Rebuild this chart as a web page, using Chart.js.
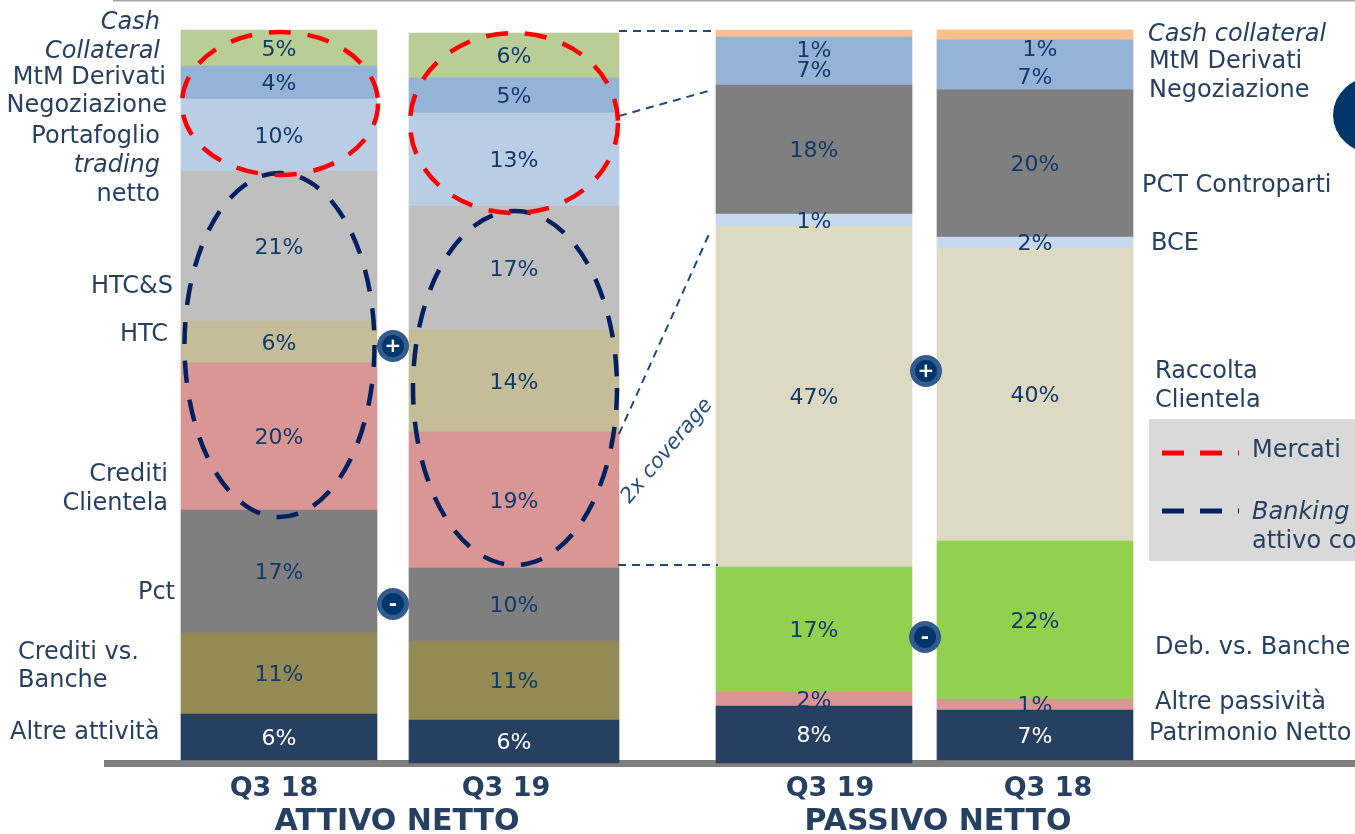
<!DOCTYPE html>
<html>
<head>
<meta charset="utf-8">
<style>
  html, body { margin: 0; padding: 0; background: #fff; overflow: hidden; }
  canvas { display: block; }
</style>
<script src="https://cdn.jsdelivr.net/npm/chart.js@4/dist/chart.umd.min.js"></script>
</head>
<body>
<canvas id="chart" width="1355" height="834"></canvas>
<script>
// Segments, bottom to top
const assetSegments = ['Altre attività', 'Crediti vs. Banche', 'Pct', 'Crediti Clientela', 'HTC', 'HTC&S', 'Portafoglio trading netto', 'MtM Derivati Negoziazione', 'Cash Collateral'];
const liabilitySegments = ['Patrimonio Netto', 'Altre passività', 'Deb. vs. Banche', 'Raccolta Clientela', 'BCE', 'PCT Controparti', 'MtM Derivati Negoziazione', 'Cash collateral'];

// Segment shares (%)
const assetsQ318 = [6.3, 11.1, 16.85, 20.14, 5.75, 20.55, 9.86, 4.52, 4.93];
const assetsQ319 = [5.89, 10.82, 10.0, 18.63, 13.97, 16.99, 12.74, 4.79, 6.16];
const liabilitiesQ319 = [7.81, 1.92, 17.12, 46.71, 1.64, 17.67, 6.58, 0.96];
const liabilitiesQ318 = [6.85, 1.51, 21.64, 40.14, 1.51, 20.14, 6.85, 1.37];

// Percentages as printed on the bars
const assetsQ318Labels = ['6%', '11%', '17%', '20%', '6%', '21%', '10%', '4%', '5%'];
const assetsQ319Labels = ['6%', '11%', '10%', '19%', '14%', '17%', '13%', '5%', '6%'];
const liabilitiesQ319Labels = ['8%', '2%', '17%', '47%', '1%', '18%', '7%', '1%'];
const liabilitiesQ318Labels = ['7%', '1%', '22%', '40%', '2%', '20%', '7%', '1%'];

const periodLabels = ['Q3 18', 'Q3 19', 'Q3 19', 'Q3 18'];

const assetColors = ['#264061', '#948a54', '#7f7f7f', '#d99694', '#c4bd97', '#bfbfbf', '#b9cde5', '#95b3d7', '#b9cd96'];
const liabilityColors = ['#264061', '#d99694', '#92d050', '#ddd9c3', '#c6d9f1', '#7f7f7f', '#95b3d7', '#fac090'];

// x scale runs in page pixels, y scale in %
const barX = [279, 514, 814, 1035];
const barWidth = [196, 210, 196, 196];
const barBase = [0, -0.41, -0.41, 0];
const tickX = [274, 506, 830, 1048];
const yUnit = 7.3;

const FONT = '"DejaVu Sans", Verdana, sans-serif';
const TEXT = '#264061';
const PCT = '#123a6b';

const bars = [
  { names: assetSegments, values: assetsQ318, labels: assetsQ318Labels, colors: assetColors },
  { names: assetSegments, values: assetsQ319, labels: assetsQ319Labels, colors: assetColors },
  { names: liabilitySegments, values: liabilitiesQ319, labels: liabilitiesQ319Labels, colors: liabilityColors },
  { names: liabilitySegments, values: liabilitiesQ318, labels: liabilitiesQ318Labels, colors: liabilityColors }
];

// one dataset per segment so each bar can have its own width
const datasets = [];
bars.forEach((b, i) => {
  let sum = barBase[i];
  b.values.forEach((v, j) => {
    datasets.push({
      label: b.names[j],
      data: [{ x: barX[i], y: [sum, sum + v] }],
      backgroundColor: b.colors[j],
      barThickness: barWidth[i],
      clip: false,
      pctLabel: b.labels[j],
      white: j === 0,
      barIndex: i,
      segIndex: j
    });
    sum += v;
  });
});

// labels that sit away from the middle of their segment: [bar, segment, dx, y]
const movedLabels = [
  [2, 7, 0, 49],
  [2, 6, 0, 69],
  [3, 7, 5, 48],
  [3, 6, 0, 76]
];

const sideTexts = [
  ['Cash', 160, 21, 'right', true],
  ['Collateral', 160, 50, 'right', true],
  ['MtM Derivati', 166, 76, 'right'],
  ['Negoziazione', 167, 104, 'right'],
  ['Portafoglio', 160, 135, 'right'],
  ['trading', 160, 164, 'right', true],
  ['netto', 160, 193, 'right'],
  ['HTC&S', 173, 285, 'right'],
  ['HTC', 168, 333, 'right'],
  ['Crediti', 168, 473, 'right'],
  ['Clientela', 168, 502, 'right'],
  ['Pct', 175, 591, 'right'],
  ['Crediti vs.', 18, 651, 'left'],
  ['Banche', 18, 679, 'left'],
  ['Altre attività', 10, 731, 'left'],
  ['Cash collateral', 1148, 33, 'left', true],
  ['MtM Derivati', 1149, 60, 'left'],
  ['Negoziazione', 1149, 89, 'left'],
  ['PCT Controparti', 1142, 184, 'left'],
  ['BCE', 1151, 242, 'left'],
  ['Raccolta', 1155, 370, 'left'],
  ['Clientela', 1155, 399, 'left'],
  ['Deb. vs. Banche', 1155, 646, 'left'],
  ['Altre passività', 1155, 701, 'left'],
  ['Patrimonio Netto', 1149, 732, 'left']
];

const legendTexts = [
  ['Mercati', 1252, 449, 'left'],
  ['Banking', 1252, 511, 'left', true],
  ['attivo co', 1252, 540, 'left']
];

const groupTitles = [
  ['ATTIVO NETTO', 397, 822],
  ['PASSIVO NETTO', 938, 822]
];

const ellipses = [
  [279.5, 345, 95, 172, '#002060'],
  [515, 388, 102, 177, '#002060'],
  [280, 103.5, 98, 71.5, '#ff0000'],
  [514, 123, 104, 90, '#ff0000']
];

const connectors = [
  [619, 31, 712, 31],
  [619, 116, 712, 90],
  [619, 434, 710, 232],
  [618, 565, 718, 565]
];

const badges = [
  ['+', 393, 346],
  ['+', 926, 371],
  ['-', 393, 604],
  ['-', 925, 637]
];

function text(ctx, str, x, y, align, font, color) {
  ctx.font = font;
  ctx.fillStyle = color;
  ctx.textAlign = align;
  ctx.textBaseline = 'middle';
  ctx.fillText(str, x, y);
}

const backdrop = {
  id: 'backdrop',
  beforeDraw(chart) {
    const ctx = chart.ctx;
    ctx.save();
    // rule along the top
    ctx.fillStyle = '#a6a6a6';
    ctx.fillRect(113, 0, 1242, 1.5);
    // legend box
    ctx.fillStyle = '#d9d9d9';
    ctx.fillRect(1149, 419, 206, 142);
    // logo edge on the right
    ctx.fillStyle = '#00376b';
    ctx.beginPath();
    ctx.ellipse(1376, 115, 43, 39, 0, 0, Math.PI * 2);
    ctx.fill();
    ctx.restore();
  }
};

const overlay = {
  id: 'overlay',
  afterDatasetsDraw(chart) {
    const ctx = chart.ctx;
    ctx.save();

    // percentages on the bars
    chart.data.datasets.forEach((ds, i) => {
      const el = chart.getDatasetMeta(i).data[0];
      let x = el.x;
      let y = (el.y + el.base) / 2;
      const moved = movedLabels.find(m => m[0] === ds.barIndex && m[1] === ds.segIndex);
      if (moved) {
        x += moved[2];
        y = moved[3];
      }
      text(ctx, ds.pctLabel, x, y + 2, 'center', '22px ' + FONT, ds.white ? '#ffffff' : PCT);
    });

    // connectors between the two panels
    ctx.strokeStyle = '#1f497d';
    ctx.lineWidth = 2;
    ctx.setLineDash([8, 6]);
    connectors.forEach(c => {
      ctx.beginPath();
      ctx.moveTo(c[0], c[1]);
      ctx.lineTo(c[2], c[3]);
      ctx.stroke();
    });

    // dashed ellipses
    ctx.lineWidth = 4.5;
    ctx.setLineDash([22, 17]);
    ellipses.forEach(e => {
      ctx.strokeStyle = e[4];
      ctx.beginPath();
      ctx.ellipse(e[0], e[1], e[2], e[3], 0, 0, Math.PI * 2);
      ctx.stroke();
    });

    // legend keys
    [[453, '#ff0000'], [511, '#002060']].forEach(k => {
      ctx.strokeStyle = k[1];
      ctx.lineWidth = 5;
      ctx.setLineDash([22, 16]);
      ctx.beginPath();
      ctx.moveTo(1162, k[0]);
      ctx.lineTo(1239, k[0]);
      ctx.stroke();
    });
    ctx.setLineDash([]);

    // + and - badges
    badges.forEach(b => {
      ctx.fillStyle = '#335c8e';
      ctx.beginPath();
      ctx.arc(b[1], b[2], 16, 0, Math.PI * 2);
      ctx.fill();
      ctx.fillStyle = '#00376b';
      ctx.beginPath();
      ctx.arc(b[1], b[2], 11, 0, Math.PI * 2);
      ctx.fill();
      text(ctx, b[0], b[1], b[2] + 1, 'center', 'bold 20px ' + FONT, '#ffffff');
    });

    sideTexts.concat(legendTexts).forEach(t => {
      text(ctx, t[0], t[1], t[2] + 2, t[3], (t[4] ? 'italic ' : '') + '24px ' + FONT, TEXT);
    });

    groupTitles.forEach(t => {
      text(ctx, t[0], t[1], t[2], 'center', 'bold 30px ' + FONT, TEXT);
    });

    // rotated note
    ctx.translate(667, 451);
    ctx.rotate(-50 * Math.PI / 180);
    text(ctx, '2x coverage', 0, 0, 'center', 'italic 21px ' + FONT, '#2a5080');
    ctx.restore();
  }
};

new Chart(document.getElementById('chart').getContext('2d'), {
  type: 'bar',
  data: { datasets: datasets },
  plugins: [backdrop, overlay],
  options: {
    responsive: false,
    animation: false,
    layout: { padding: { left: 107, top: 0, right: 0, bottom: 0 } },
    plugins: { legend: { display: false }, tooltip: { enabled: false } },
    scales: {
      x: {
        type: 'linear',
        offset: false,
        stacked: true,
        min: 107,
        max: 1355,
        grid: { display: false },
        border: { display: true, color: '#7f7f7f', width: 7 },
        afterBuildTicks: scale => { scale.ticks = tickX.map(v => ({ value: v })); },
        afterFit: scale => { scale.height = 71; },
        ticks: {
          autoSkip: false,
          maxRotation: 0,
          padding: 2,
          color: TEXT,
          font: { family: FONT, size: 27, weight: 'bold' },
          callback: (value, i) => periodLabels[i]
        }
      },
      y: {
        display: false,
        stacked: false,
        min: -3 / yUnit,
        max: 760 / yUnit
      }
    }
  }
});
</script>
</body>
</html>
